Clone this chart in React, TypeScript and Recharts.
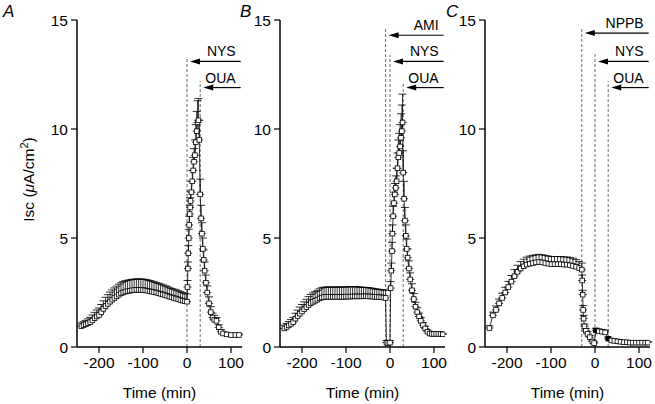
import React from 'react';
import { LineChart, Line, XAxis, YAxis, ErrorBar, ReferenceLine } from 'recharts';

const FONT = '"Liberation Sans", Arial, Helvetica, sans-serif';

const X_TICKS = [-200, -100, 0, 100];
const Y_TICKS = [0, 5, 10, 15];
const X_DOMAIN = [-250, 125];
const Y_DOMAIN = [0, 15];
const ARROW_END = 122;

// Panel A
const A_TIME = [
  -240, -235, -230, -225, -220, -215, -210, -205, -200, -195, -190, -185, -180, -175, -170, -165, -160,
  -155, -150, -145, -140, -135, -130, -125, -120, -115, -110, -105, -100, -95, -90, -85, -80, -75, -70,
  -65, -60, -55, -50, -45, -40, -35, -30, -25, -20, -15, -10, -5, 0,
  1, 2, 3, 4, 5, 6, 7, 8, 10, 12, 14, 16, 18, 20, 22, 24, 26, 28, 30, 32, 34, 36, 38, 40, 43, 46,
  50, 54, 58, 62, 67, 72, 77, 82, 90, 100, 110, 118,
];
const A_ISC = [
  0.95, 1.0, 1.04, 1.09, 1.14, 1.22, 1.32, 1.4, 1.47, 1.6, 1.75, 1.88, 1.98, 2.08, 2.17, 2.25, 2.32,
  2.4, 2.46, 2.5, 2.54, 2.56, 2.58, 2.6, 2.61, 2.62, 2.62, 2.62, 2.61, 2.6, 2.58, 2.56, 2.54, 2.52, 2.5,
  2.47, 2.44, 2.41, 2.38, 2.35, 2.31, 2.28, 2.25, 2.22, 2.19, 2.16, 2.13, 2.1, 2.08,
  2.75, 3.6, 4.3, 5.0, 5.6, 6.1, 6.4, 6.7, 7.1, 7.6, 8.1, 8.5, 8.8, 9.4, 9.9, 10.3, 10.4, 9.5, 7.0, 5.9,
  5.2, 4.5, 4.0, 3.5, 2.95, 2.5, 2.0, 1.6, 1.35, 1.25, 1.2, 0.9, 0.7, 0.62, 0.58, 0.55, 0.55, 0.55,
];
const A_SEM = [
  0.15, 0.16, 0.18, 0.2, 0.22, 0.25, 0.27, 0.3, 0.32, 0.35, 0.37, 0.4, 0.42, 0.44, 0.45, 0.46, 0.47,
  0.48, 0.49, 0.5, 0.5, 0.5, 0.5, 0.5, 0.5, 0.5, 0.5, 0.5, 0.5, 0.5, 0.5, 0.49, 0.48, 0.47, 0.46,
  0.45, 0.45, 0.44, 0.43, 0.42, 0.41, 0.4, 0.4, 0.4, 0.39, 0.38, 0.37, 0.36, 0.35,
  0.3, 0.3, 0.35, 0.4, 0.4, 0.4, 0.45, 0.45, 0.5, 0.5, 0.6, 0.6, 0.7, 0.8, 0.9, 1.0, 1.0, 0.9, 0.7, 0.6,
  0.5, 0.5, 0.45, 0.4, 0.35, 0.3, 0.3, 0.25, 0.2, 0.2, 0.15, 0.12, 0.1, 0.08, 0.06, 0.05, 0.05, 0.05,
];

// Panel B
const B_TIME = [
  -240, -235, -230, -225, -220, -215, -210, -205, -200, -195, -190, -185, -180, -175, -170, -165, -160,
  -155, -150, -145, -140, -135, -130, -125, -120, -115, -110, -105, -100, -95, -90, -85, -80, -75, -70,
  -65, -60, -55, -50, -45, -40, -35, -30, -25, -20, -15, -10,
  -8, -4, 0, 1.5, 3, 4.5, 5.5, 7, 9, 11, 13, 15, 17, 19, 21, 23, 25, 27, 28.5, 30, 32, 34, 36, 38, 40,
  43, 46, 50, 54, 58, 62, 66, 70, 75, 80, 85, 90, 95, 100, 105, 110, 115, 120,
];
const B_ISC = [
  0.85, 0.92, 0.99, 1.06, 1.14, 1.3, 1.42, 1.53, 1.63, 1.73, 1.83, 1.93, 2.01, 2.07, 2.12, 2.17, 2.23,
  2.27, 2.29, 2.3, 2.3, 2.3, 2.3, 2.3, 2.3, 2.3, 2.3, 2.3, 2.31, 2.31, 2.31, 2.32, 2.32, 2.32, 2.32,
  2.32, 2.33, 2.33, 2.32, 2.32, 2.31, 2.3, 2.3, 2.29, 2.28, 2.27, 2.25,
  0.2, 0.18, 0.2, 2.7, 3.5, 4.4, 5.2, 6.0, 6.6, 7.0, 7.3, 7.6, 8.2, 8.7, 8.9, 9.2, 9.6, 9.9, 10.3, 8.0,
  6.8, 5.8, 5.1, 4.5, 4.1, 3.6, 3.1, 2.6, 2.2, 1.85, 1.6, 1.4, 1.2, 1.0, 0.85, 0.7, 0.62, 0.6, 0.6,
  0.6, 0.6, 0.6, 0.58,
];
const B_SEM = [
  0.15, 0.16, 0.18, 0.2, 0.22, 0.25, 0.27, 0.3, 0.32, 0.34, 0.36, 0.38, 0.4, 0.41, 0.42, 0.43, 0.44,
  0.45, 0.45, 0.45, 0.45, 0.45, 0.45, 0.45, 0.45, 0.45, 0.45, 0.45, 0.45, 0.45, 0.45, 0.45, 0.45, 0.44,
  0.43, 0.42, 0.41, 0.4, 0.4, 0.39, 0.38, 0.37, 0.36, 0.35, 0.35, 0.35, 0.35,
  0.1, 0.1, 0.1, 0.3, 0.35, 0.4, 0.4, 0.45, 0.5, 0.5, 0.55, 0.6, 0.7, 0.8, 0.9, 1.0, 1.1, 1.2, 1.3, 1.0,
  0.8, 0.6, 0.5, 0.45, 0.4, 0.35, 0.3, 0.3, 0.25, 0.2, 0.2, 0.15, 0.15, 0.12, 0.1, 0.08, 0.06, 0.05,
  0.05, 0.05, 0.05, 0.05, 0.05,
];

// Panel C
const C_TIME = [
  -240, -232, -225, -218, -211, -204, -197, -190, -183, -176, -169, -162, -155, -148, -141, -134, -127,
  -120, -113, -106, -99, -92, -85, -78, -71, -64, -57, -50, -43, -36, -30,
  -29, -28, -27, -26, -24, -21, -17, -12, -6, -2,
  2, 9, 16, 23,
  30, 37, 44, 51, 58, 65, 72, 79, 86, 93, 100, 107, 114, 120,
];
const C_ISC = [
  0.87, 1.45, 1.7, 2.0, 2.25, 2.5, 2.75, 3.0, 3.25, 3.45, 3.6, 3.7, 3.78, 3.82, 3.85, 3.88, 3.9,
  3.88, 3.85, 3.82, 3.8, 3.8, 3.8, 3.8, 3.78, 3.78, 3.75, 3.72, 3.68, 3.62, 3.55,
  3.05, 2.4, 1.7, 1.3, 0.95, 0.75, 0.6, 0.45, 0.25, 0.18,
  0.76, 0.72, 0.7, 0.67,
  0.38, 0.3, 0.28, 0.26, 0.24, 0.22, 0.22, 0.2, 0.2, 0.2, 0.2, 0.2, 0.2, 0.2,
];
const C_SEM = [
  0.1, 0.15, 0.18, 0.2, 0.22, 0.24, 0.26, 0.28, 0.3, 0.3, 0.32, 0.33, 0.34, 0.35, 0.35, 0.35, 0.35,
  0.35, 0.35, 0.35, 0.35, 0.35, 0.35, 0.35, 0.35, 0.35, 0.35, 0.35, 0.33, 0.3, 0.3,
  0.25, 0.2, 0.2, 0.15, 0.1, 0.1, 0.1, 0.08, 0.06, 0.05,
  0.1, 0.1, 0.1, 0.1,
  0.08, 0.05, 0.05, 0.05, 0.05, 0.05, 0.05, 0.05, 0.05, 0.05, 0.05, 0.05, 0.05, 0.05,
];
const C_FILLED_TIMES = [2, 30];

// Drug additions: label, time of addition, top of dashed line, arrow height
const A_DRUGS = [
  { label: 'NYS', t: 0, top: 13.3, arrowY: 13.1 },
  { label: 'OUA', t: 30, top: 12.2, arrowY: 11.9 },
];
const B_DRUGS = [
  { label: 'AMI', t: -10, top: 14.6, arrowY: 14.3 },
  { label: 'NYS', t: 0, top: 13.4, arrowY: 13.1 },
  { label: 'OUA', t: 30, top: 12.1, arrowY: 11.9 },
];
const C_DRUGS = [
  { label: 'NPPB', t: -30, top: 14.6, arrowY: 14.4 },
  { label: 'NYS', t: 0, top: 13.5, arrowY: 13.1 },
  { label: 'OUA', t: 30, top: 12.2, arrowY: 11.9 },
];

const build = (time: number[], isc: number[], sem: number[]) =>
  time.map((t, i) => ({ t, v: isc[i], e: [0, sem[i]] }));

const arrowShape = (label: string) => (props: any) => {
  const { x1, y1, x2 } = props;
  const left = Math.min(x1, x2);
  const right = Math.max(x1, x2);
  const tip = left + 3;
  return (
    <g>
      <line x1={tip + 8} y1={y1} x2={right} y2={y1} stroke="#000" strokeWidth={1.2} />
      <polygon points={`${tip},${y1} ${tip + 10},${y1 - 3} ${tip + 10},${y1 + 3}`} fill="#000" />
      <text x={right - 5} y={y1 - 5} textAnchor="end" fontSize={14} fontFamily={FONT} fill="#000">
        {label}
      </text>
    </g>
  );
};

const yLabel = (props: any) => {
  const vb = props.viewBox || { x: 0, y: 20, width: 77, height: 327 };
  const cx = vb.x + 34;
  const cy = vb.y + vb.height / 2 - 4;
  return (
    <text
      x={cx}
      y={cy}
      transform={`rotate(-90, ${cx}, ${cy})`}
      textAnchor="middle"
      fontSize={15.5}
      fontFamily={FONT}
      fill="#000"
    >
      Isc (<tspan fontStyle="italic">μ</tspan>A/cm<tspan dy={-6} fontSize={11}>2</tspan>
      <tspan dy={6}>)</tspan>
    </text>
  );
};

type PanelProps = {
  data: { t: number; v: number; e: number[] }[];
  drugs: { label: string; t: number; top: number; arrowY: number }[];
  filled?: number[];
  left: number;
  width: number;
  yAxisWidth: number;
  marginRight: number;
  showYLabel?: boolean;
};

const AXIS_TEXT = { fill: '#000', fontSize: 15.5, fontFamily: FONT };

const Panel = ({ data, drugs, filled = [], left, width, yAxisWidth, marginRight, showYLabel }: PanelProps) => {
  const dot = (p: any) => {
    const { cx, cy, index, payload } = p;
    if (cx == null || cy == null) return <g key={`d${index}`} />;
    const isFilled = filled.includes(payload.t);
    return (
      <rect
        key={`d${index}`}
        x={cx - 2.3}
        y={cy - 2.3}
        width={4.6}
        height={4.6}
        fill={isFilled ? '#000' : '#fff'}
        stroke="#000"
        strokeWidth={0.8}
      />
    );
  };
  return (
    <div style={{ position: 'absolute', left, top: 0 }}>
      <LineChart
        width={width}
        height={404}
        data={data}
        margin={{ top: 20, right: marginRight, bottom: 0, left: 0 }}
      >
        <XAxis
          type="number"
          dataKey="t"
          domain={X_DOMAIN}
          ticks={X_TICKS}
          allowDataOverflow
          height={57}
          tickSize={6}
          tickMargin={4}
          axisLine={{ stroke: '#000', strokeWidth: 1.5 }}
          tickLine={{ stroke: '#000', strokeWidth: 1.2 }}
          tick={AXIS_TEXT}
          label={{ value: 'Time (min)', position: 'insideBottom', offset: 6, ...AXIS_TEXT }}
        />
        <YAxis
          type="number"
          domain={Y_DOMAIN}
          ticks={Y_TICKS}
          allowDataOverflow
          width={yAxisWidth}
          tickSize={6}
          tickMargin={3}
          axisLine={{ stroke: '#000', strokeWidth: 1.5 }}
          tickLine={{ stroke: '#000', strokeWidth: 1.2 }}
          tick={AXIS_TEXT}
          label={showYLabel ? yLabel : undefined}
        />
        {drugs.map((d) => (
          <ReferenceLine
            key={`v${d.label}`}
            segment={[{ x: d.t, y: 0 }, { x: d.t, y: d.top }]}
            stroke="#444"
            strokeWidth={0.8}
            strokeDasharray="3 2"
            ifOverflow="visible"
          />
        ))}
        {drugs.map((d) => (
          <ReferenceLine
            key={`a${d.label}`}
            segment={[{ x: d.t, y: d.arrowY }, { x: ARROW_END, y: d.arrowY }]}
            ifOverflow="visible"
            shape={arrowShape(d.label)}
          />
        ))}
        <Line
          type="linear"
          dataKey="v"
          stroke="#000"
          strokeWidth={0.8}
          dot={dot}
          activeDot={false}
          isAnimationActive={false}
        >
          <ErrorBar dataKey="e" direction="y" width={4} stroke="#000" strokeWidth={0.8} />
        </Line>
      </LineChart>
    </div>
  );
};

export default function App() {
  const aData = build(A_TIME, A_ISC, A_SEM);
  const bData = build(B_TIME, B_ISC, B_SEM);
  const cData = build(C_TIME, C_ISC, C_SEM);
  return (
    <div style={{ position: 'absolute', left: 0, top: 0, width: 655, height: 404, background: '#fff', overflow: 'hidden' }}>
      <Panel data={aData} drugs={A_DRUGS} left={0} width={250} yAxisWidth={77} marginRight={8} showYLabel />
      <Panel data={bData} drugs={B_DRUGS} left={235} width={220} yAxisWidth={45} marginRight={10} />
      <Panel data={cData} drugs={C_DRUGS} filled={C_FILLED_TIMES} left={440} width={215} yAxisWidth={45} marginRight={5} />
      <svg width={655} height={404} style={{ position: 'absolute', left: 0, top: 0, pointerEvents: 'none' }}>
        <text x={3} y={17} fontSize={17} fontStyle="italic" fontFamily={FONT} fill="#000">A</text>
        <text x={240} y={17} fontSize={17} fontStyle="italic" fontFamily={FONT} fill="#000">B</text>
        <text x={446} y={17} fontSize={17} fontStyle="italic" fontFamily={FONT} fill="#000">C</text>
      </svg>
    </div>
  );
}
